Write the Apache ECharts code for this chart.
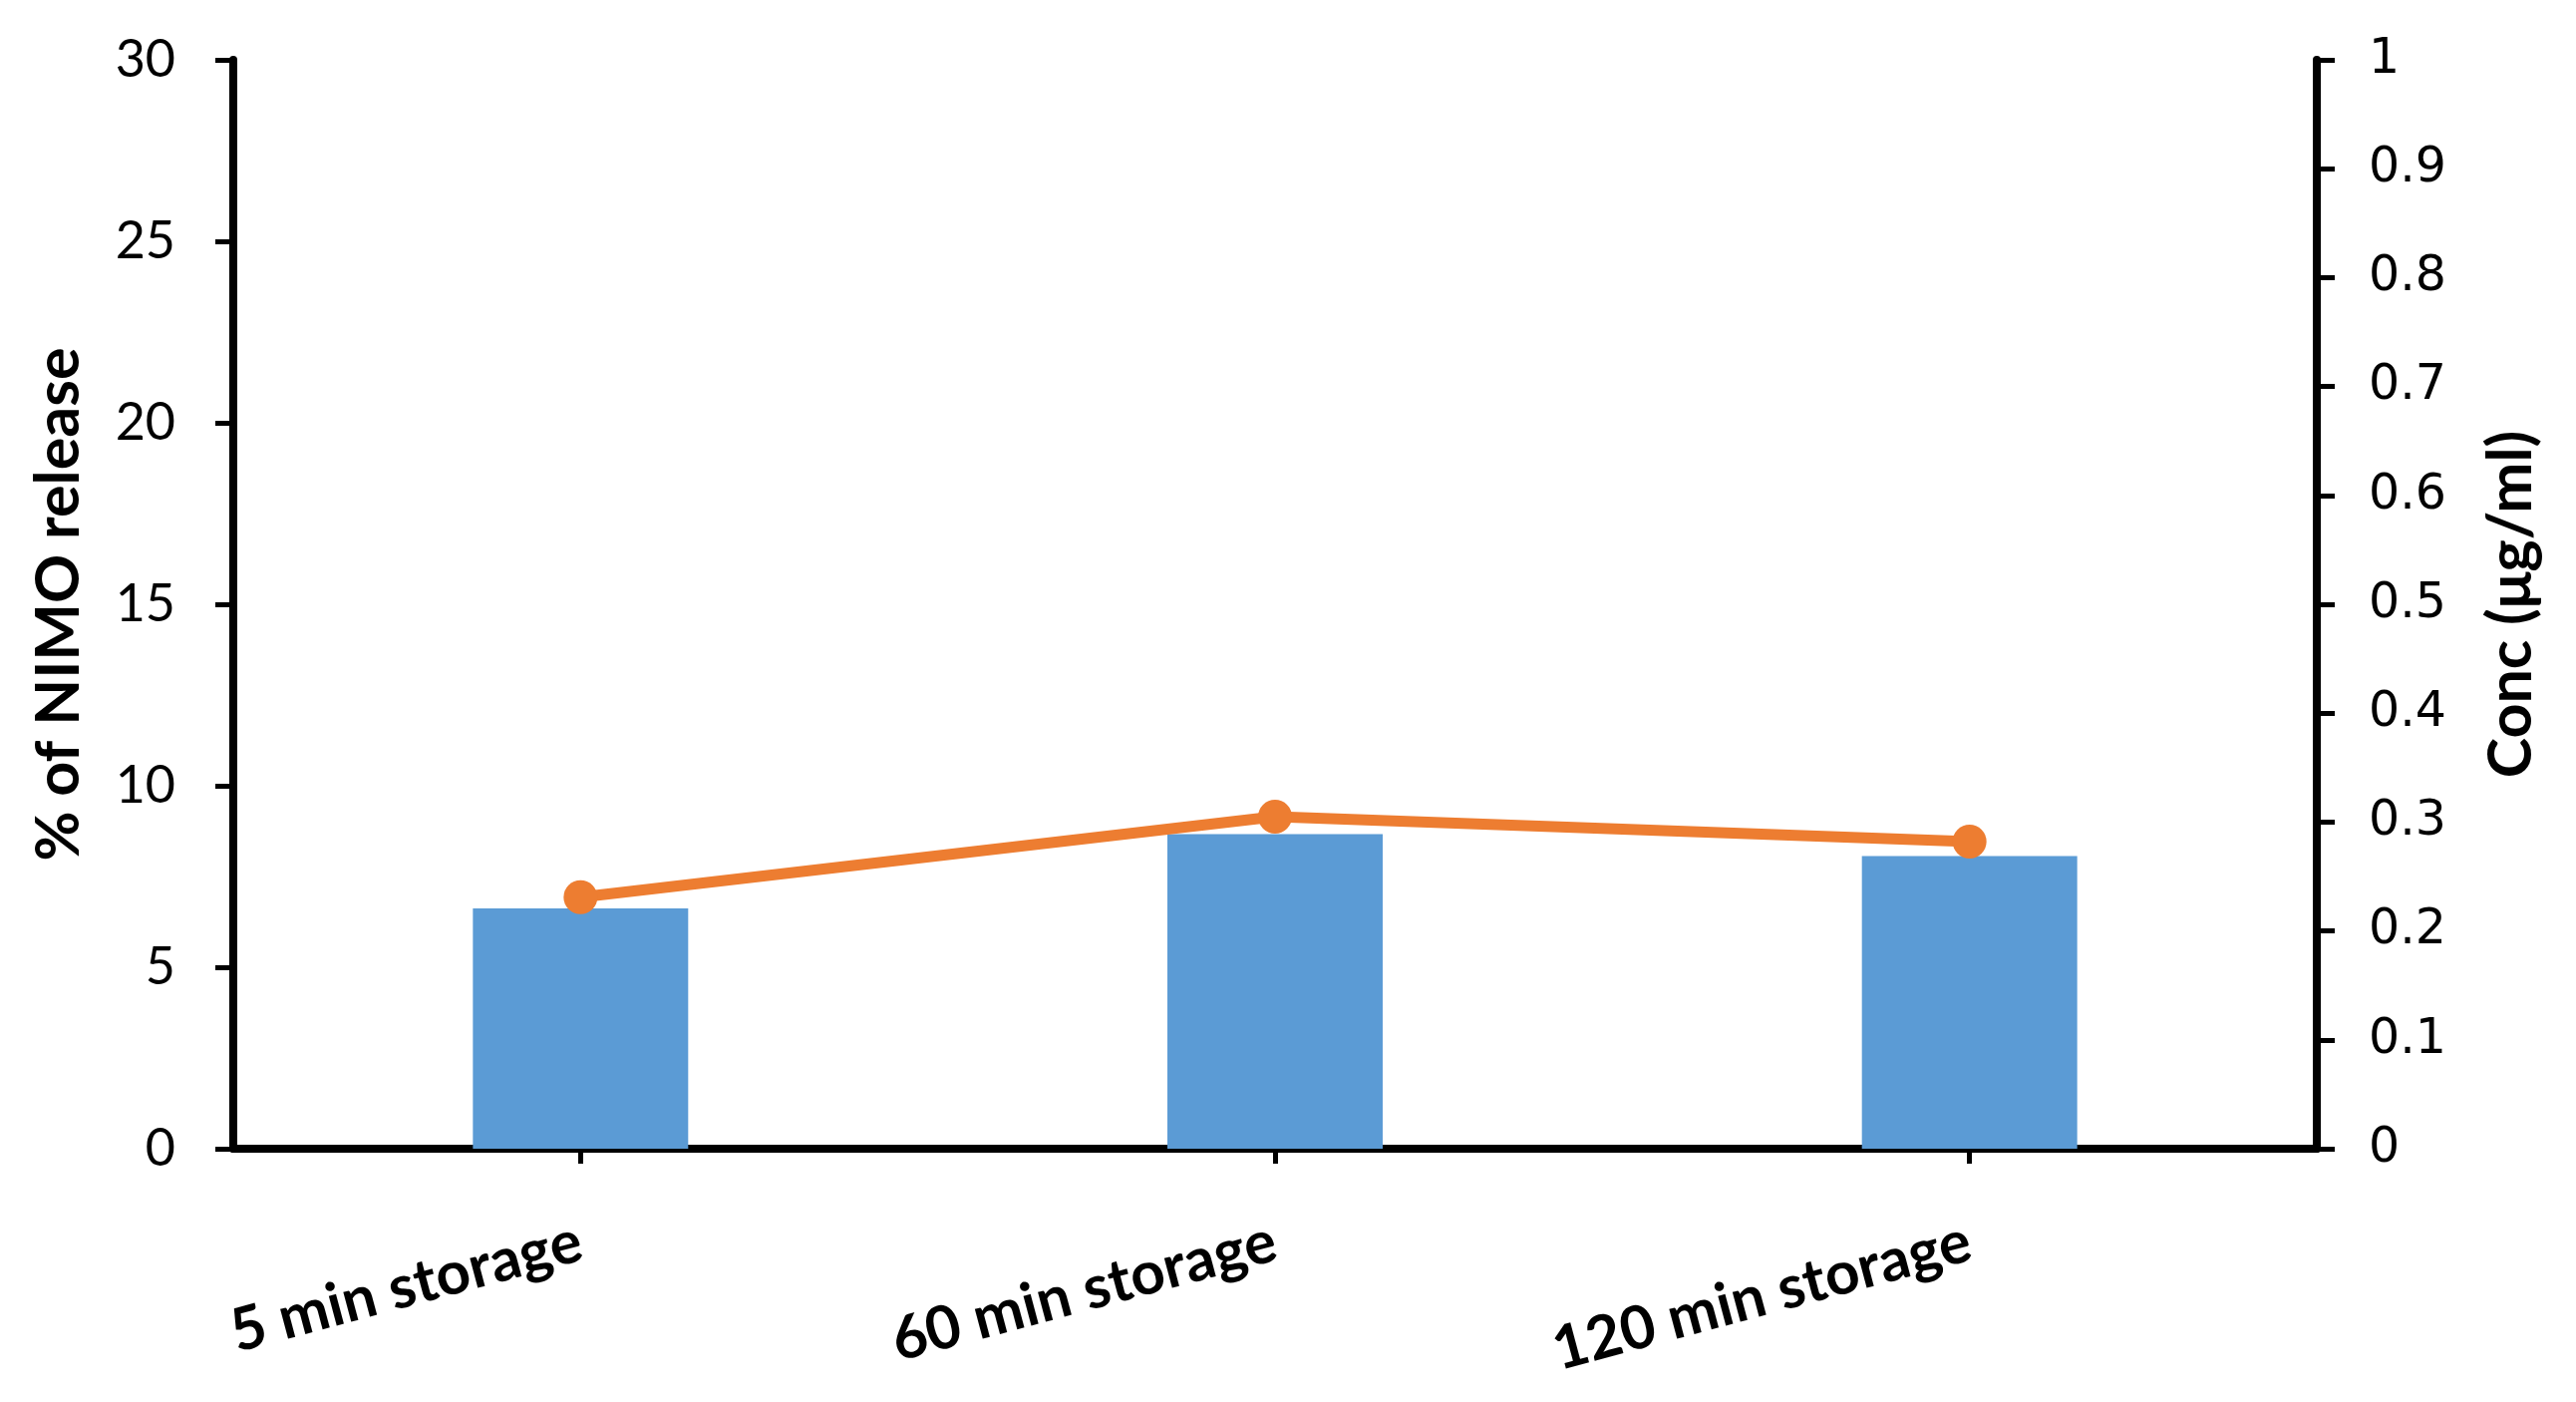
<!DOCTYPE html>
<html>
<head>
<meta charset="utf-8">
<title>NIMO release</title>
<script src="https://cdn.jsdelivr.net/npm/echarts@6/dist/echarts.min.js"></script>
<style>
  html, body { margin: 0; padding: 0; background: #fff; }
  #chart { width: 2584px; height: 1406px; }
</style>
</head>
<body>
<div id="chart"></div>
<script>
var categories = ['5 min storage', '60 min storage', '120 min storage'];
var releasePct = [6.62, 8.67, 8.06];
var concValues = [0.231, 0.305, 0.282];
var leftTicks = [0, 5, 10, 15, 20, 25, 30];
var rightTicks = [0, 0.1, 0.2, 0.3, 0.4, 0.5, 0.6, 0.7, 0.8, 0.9, 1];

var chart = echarts.init(document.getElementById('chart'));

var axisLine = { show: true, lineStyle: { color: '#000', width: 8 } };
var axisTick = { show: true, inside: false, length: 18, lineStyle: { color: '#000', width: 5 } };

chart.setOption({
  backgroundColor: '#fff',
  animation: false,
  grid: { left: 234, right: 260, top: 60, bottom: 254 },
  xAxis: {
    type: 'category',
    data: categories,
    boundaryGap: true,
    axisLine: axisLine,
    axisTick: { show: true, alignWithLabel: true, length: 15, lineStyle: { color: '#000', width: 5 } },
    axisLabel: {
      rotate: 15,
      margin: 92,
      interval: 0,
      fontFamily: 'Lato',
      fontWeight: 'bold',
      fontSize: 60,
      color: '#000'
    },
    splitLine: { show: false }
  },
  yAxis: [
    {
      type: 'value',
      min: leftTicks[0],
      max: leftTicks[leftTicks.length - 1],
      interval: 5,
      name: '% of NIMO release',
      nameLocation: 'middle',
      nameRotate: 90,
      nameGap: 144,
      nameTextStyle: { fontFamily: 'Lato', fontWeight: 'bold', fontSize: 61, color: '#000' },
      axisLine: axisLine,
      axisTick: axisTick,
      axisLabel: { margin: 58, fontFamily: 'Lato', fontSize: 52, color: '#000' },
      splitLine: { show: false }
    },
    {
      type: 'value',
      position: 'right',
      min: rightTicks[0],
      max: rightTicks[rightTicks.length - 1],
      interval: 0.1,
      name: 'Conc (\u03bcg/ml)',
      nameLocation: 'middle',
      nameRotate: 90,
      nameGap: 165,
      nameTextStyle: { fontFamily: 'Lato', fontWeight: 'bold', fontSize: 61, color: '#000' },
      axisLine: axisLine,
      axisTick: axisTick,
      axisLabel: { margin: 52, fontFamily: 'DejaVu Sans', fontSize: 49, color: '#000' },
      splitLine: { show: false }
    }
  ],
  series: [
    {
      name: '% of NIMO release',
      type: 'bar',
      yAxisIndex: 0,
      data: releasePct,
      barWidth: '31%',
      itemStyle: { color: '#5B9BD5' }
    },
    {
      name: 'Conc',
      type: 'line',
      yAxisIndex: 1,
      data: concValues,
      symbol: 'circle',
      symbolSize: 34,
      lineStyle: { color: '#ED7D31', width: 11 },
      itemStyle: { color: '#ED7D31' }
    }
  ]
});
</script>
</body>
</html>
